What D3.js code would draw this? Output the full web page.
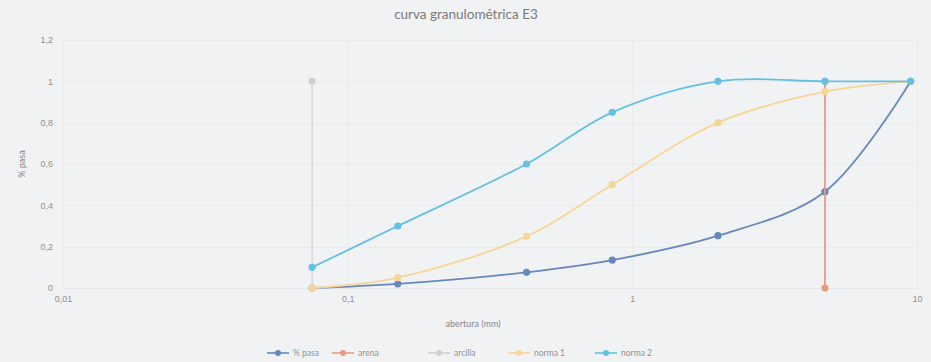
<!DOCTYPE html>
<html>
<head>
<meta charset="utf-8">
<script src="https://cdn.jsdelivr.net/npm/d3@7"></script>
<style>
  html, body { margin: 0; padding: 0; background: #f1f2f3; }
  svg { display: block; font-family: Lato, "Open Sans", sans-serif; }
</style>
</head>
<body>
<svg id="chart" width="931" height="362"></svg>
<script>
// Sieve openings (mm) and passing fractions
const sieves = [0.075, 0.15, 0.425, 0.85, 2, 4.75, 9.5];
const pasa   = [0.00, 0.02, 0.076, 0.135, 0.253, 0.466, 1.0];
const norma1 = [0.00, 0.05, 0.25, 0.50, 0.80, 0.95, 1.0];
const norma2 = [0.10, 0.30, 0.60, 0.85, 1.00, 1.00, 1.0];
// Vertical boundary lines
const arenaX   = [4.75, 4.75];
const arenaY   = [0, 1];
const arcillaX = [0.075, 0.075];
const arcillaY = [1, 0];

const xTicks = [0.01, 0.1, 1, 10];
const xTickLabels = ["0,01", "0,1", "1", "10"];
const yTicks = [0, 0.2, 0.4, 0.6, 0.8, 1, 1.2];
const yTickLabels = ["0", "0,2", "0,4", "0,6", "0,8", "1", "1,2"];

const seriesNames = ["% pasa", "arena", "arcilla", "norma 1", "norma 2"];
const seriesColors = ["#6688bd", "#e99a7e", "#d0d0d0", "#f6d696", "#66c0e4"];
const seriesWidths = [1.8, 1.8, 1.2, 1.8, 1.8];

const series = [
  { name: seriesNames[0], xs: sieves,   ys: pasa,     color: seriesColors[0], w: seriesWidths[0] },
  { name: seriesNames[1], xs: arenaX,   ys: arenaY,   color: seriesColors[1], w: seriesWidths[1] },
  { name: seriesNames[2], xs: arcillaX, ys: arcillaY, color: seriesColors[2], w: seriesWidths[2] },
  { name: seriesNames[3], xs: sieves,   ys: norma1,   color: seriesColors[3], w: seriesWidths[3] },
  { name: seriesNames[4], xs: sieves,   ys: norma2,   color: seriesColors[4], w: seriesWidths[4] }
];

const svg = d3.select("#chart");
const x = d3.scaleLog().domain([0.01, 10]).range([63, 917]);
const y = d3.scaleLinear().domain([0, 1.2]).range([288, 40]);

// Gridlines
const grid = svg.append("g").attr("stroke", "#eaebed").attr("stroke-width", 1);
grid.selectAll("line.h").data(yTicks).join("line")
  .attr("x1", x(0.01)).attr("x2", x(10))
  .attr("y1", d => Math.round(y(d)) + 0.5).attr("y2", d => Math.round(y(d)) + 0.5);
grid.selectAll("line.v").data(xTicks).join("line")
  .attr("y1", y(0)).attr("y2", y(1.2))
  .attr("x1", d => Math.round(x(d)) + 0.5).attr("x2", d => Math.round(x(d)) + 0.5);

// Axes
const xAxis = d3.axisBottom(x).tickValues(xTicks)
  .tickFormat((d, i) => xTickLabels[i]).tickSize(0).tickPadding(8);
const gx = svg.append("g").attr("transform", `translate(0,${y(0)})`).call(xAxis);
gx.select(".domain").attr("stroke", "#e6e7e9");
gx.selectAll("text").attr("fill", "#909090").attr("font-size", 9);

const yAxis = d3.axisLeft(y).tickValues(yTicks)
  .tickFormat((d, i) => yTickLabels[i]).tickSize(0).tickPadding(10);
const gy = svg.append("g").attr("transform", `translate(${x(0.01)},0)`).call(yAxis);
gy.select(".domain").remove();
gy.selectAll("text").attr("fill", "#909090").attr("font-size", 9);

// Series lines and markers
const line = d3.line()
  .x(d => x(d[0])).y(d => y(d[1]))
  .curve(d3.curveCatmullRom.alpha(0.5));

series.forEach(s => {
  const pts = s.xs.map((v, i) => [v, s.ys[i]]);
  const g = svg.append("g");
  g.append("path").datum(pts)
    .attr("d", line)
    .attr("fill", "none")
    .attr("stroke", s.color)
    .attr("stroke-width", s.w);
  g.selectAll("circle").data(pts).join("circle")
    .attr("cx", d => x(d[0])).attr("cy", d => y(d[1]))
    .attr("r", 3.6)
    .attr("fill", s.color);
});

// Title and axis titles
svg.append("text").attr("x", 466).attr("y", 19)
  .attr("text-anchor", "middle").attr("font-size", 13.5).attr("fill", "#7a7a7a")
  .text("curva granulométrica E3");
svg.append("text").attr("x", 473).attr("y", 327)
  .attr("text-anchor", "middle").attr("font-size", 9).attr("fill", "#888888")
  .text("abertura (mm)");
svg.append("text")
  .attr("transform", `translate(25,${y(0.6)}) rotate(-90)`)
  .attr("text-anchor", "middle").attr("font-size", 9).attr("fill", "#888888")
  .text("% pasa");

// Legend
const legendX = [267, 332, 428, 508, 595];
const legend = svg.append("g").attr("transform", "translate(0,353)");
series.forEach((s, i) => {
  const g = legend.append("g").attr("transform", `translate(${legendX[i]},0)`);
  g.append("line").attr("x1", 0).attr("x2", 22).attr("y1", 0).attr("y2", 0)
    .attr("stroke", s.color).attr("stroke-width", 1.6);
  g.append("circle").attr("cx", 11).attr("cy", 0).attr("r", 3).attr("fill", s.color);
  g.append("text").attr("x", 26).attr("y", 3)
    .attr("font-size", 8.5).attr("fill", "#929292").text(s.name);
});
</script>
</body>
</html>
